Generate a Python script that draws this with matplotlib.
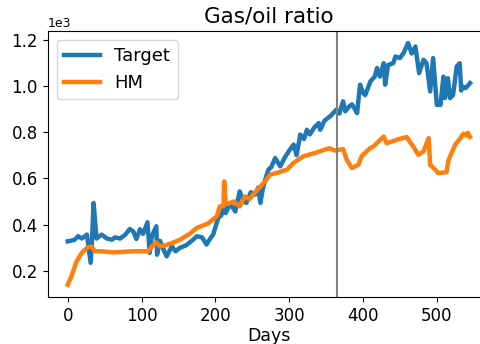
import numpy as np
import matplotlib.pyplot as plt

# Datos (valores en miles)
dias_target = [0, 9, 14, 19, 26, 31, 33, 35, 39, 46, 53, 60, 64, 71, 78, 84, 89, 93,
               98, 102, 108, 111, 114, 120, 121, 125, 130, 134, 141, 146, 152, 160,
               168, 175, 182, 188, 193, 197, 204, 208, 212, 214, 220, 227, 233, 238,
               242, 248, 254, 258, 261, 264, 268, 272, 276, 281, 288, 294, 300, 306,
               310, 315, 320, 324, 328, 334, 340, 342, 348, 356, 364, 368, 373, 376,
               381, 385, 389, 392, 396, 400, 403, 410, 416, 419, 423, 428, 430, 434,
               441, 444, 450, 455, 461, 466, 471, 476, 482, 486, 491, 495, 500, 505,
               509, 511, 515, 518, 522, 527, 531, 533, 535, 539, 545]
target = [0.328, 0.334, 0.35, 0.34, 0.357, 0.235, 0.34, 0.494, 0.34, 0.357, 0.34,
          0.335, 0.345, 0.34, 0.357, 0.381, 0.37, 0.338, 0.38, 0.36, 0.41, 0.278,
          0.35, 0.393, 0.27, 0.33, 0.29, 0.263, 0.306, 0.285, 0.30, 0.31, 0.33,
          0.35, 0.345, 0.314, 0.34, 0.357, 0.43, 0.44, 0.48, 0.45, 0.49, 0.457,
          0.544, 0.50, 0.494, 0.54, 0.53, 0.56, 0.494, 0.55, 0.60, 0.638, 0.65,
          0.688, 0.652, 0.69, 0.72, 0.746, 0.70, 0.789, 0.77, 0.81, 0.79, 0.82,
          0.839, 0.81, 0.85, 0.87, 0.897, 0.88, 0.933, 0.89, 0.91, 0.92, 0.90,
          0.882, 1.005, 0.97, 0.96, 1.019, 1.04, 1.077, 1.04, 1.098, 1.005, 1.09,
          1.098, 1.127, 1.12, 1.142, 1.185, 1.14, 1.17, 1.055, 1.113, 1.098, 0.976,
          1.12, 0.918, 0.918, 1.04, 0.947, 1.033, 0.947, 0.96, 1.084, 1.098, 0.98,
          0.997, 0.99, 1.012]

dias_hm = [0, 5, 12, 19, 26, 32, 37, 44, 62, 89, 109, 114, 120, 125, 132, 145,
           152, 165, 175, 190, 202, 206, 211, 212, 214, 216, 225, 233, 240, 246,
           254, 261, 268, 274, 285, 297, 306, 319, 335, 351, 355, 362, 373, 378,
           385, 394, 398, 405, 410, 414, 428, 432, 446, 459, 468, 475, 482, 489,
           491, 498, 502, 513, 516, 525, 532, 536, 540, 542, 545]
hm = [0.14, 0.177, 0.241, 0.278, 0.30, 0.306, 0.285, 0.285, 0.28, 0.285, 0.285,
      0.306, 0.323, 0.306, 0.31, 0.325, 0.335, 0.36, 0.386, 0.405, 0.436, 0.479,
      0.48, 0.587, 0.49, 0.49, 0.50, 0.479, 0.522, 0.51, 0.54, 0.565, 0.59, 0.616,
      0.625, 0.638, 0.667, 0.695, 0.71, 0.727, 0.73, 0.72, 0.727, 0.68, 0.645,
      0.66, 0.695, 0.717, 0.731, 0.738, 0.781, 0.752, 0.767, 0.779, 0.738, 0.702,
      0.717, 0.774, 0.659, 0.637, 0.623, 0.626, 0.68, 0.746, 0.774, 0.793, 0.785,
      0.797, 0.779]

dia_corte = 365

fig = plt.figure(figsize=(4.81, 3.44), dpi=100)
ax = fig.add_axes([0.099, 0.137, 0.92, 0.773])

ax.plot(dias_target, np.array(target) * 1e3, color="#1f77b4", lw=3.2, label="Target")
ax.plot(dias_hm, np.array(hm) * 1e3, color="#ff7f0e", lw=3.2, label="HM")
ax.axvline(dia_corte, color="gray", lw=1.5)

ax.set_title("Gas/oil ratio", fontsize=15.5)
ax.set_xlabel("Days", fontsize=12.5, labelpad=2)
ax.tick_params(labelsize=12)
ax.ticklabel_format(axis="y", style="sci", scilimits=(0, 0))
ax.yaxis.get_offset_text().set_fontsize(9)
ax.set_xticks([0, 100, 200, 300, 400, 500])
ax.legend(loc="upper left", fontsize=13)

fig.savefig("out.png", dpi=100)
